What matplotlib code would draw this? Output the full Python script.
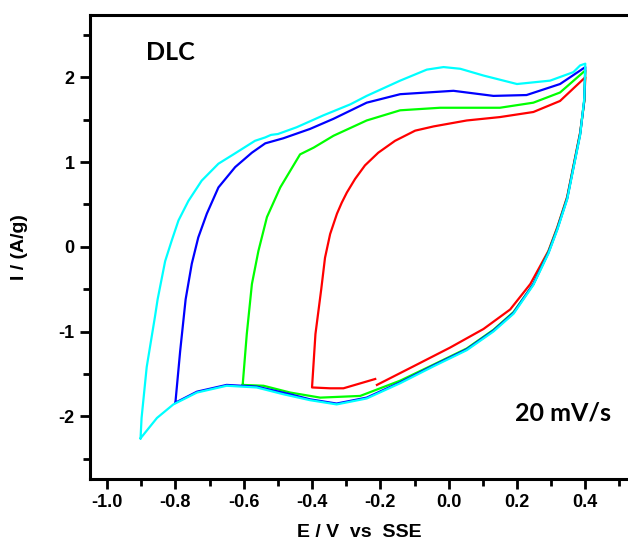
import numpy as np
import matplotlib
matplotlib.use('Agg')
import matplotlib.pyplot as plt
from matplotlib.ticker import MultipleLocator

plt.rcParams['font.family'] = 'Liberation Sans'
plt.rcParams['font.weight'] = 'bold'
plt.rcParams['axes.unicode_minus'] = False

# ---- data (E in V vs SSE, I in A/g) ----
cyan_E = [-0.902, -0.854, -0.806, -0.737, -0.65, -0.562, -0.484, -0.406, -0.328, -0.24,
          -0.142, -0.044, 0.053, 0.131, 0.19, 0.248, 0.292, 0.318, 0.347, 0.365, 0.385,
          0.397, 0.40, 0.385, 0.365, 0.297, 0.20, 0.102, 0.034, -0.015, -0.064, -0.142,
          -0.24, -0.288, -0.367, -0.445, -0.50, -0.52, -0.537, -0.567, -0.63, -0.674,
          -0.723, -0.762, -0.791, -0.811, -0.830, -0.852, -0.86, -0.884, -0.899, -0.902]
cyan_I = [-2.26, -2.02, -1.86, -1.72, -1.64, -1.66, -1.74, -1.81, -1.86, -1.79,
          -1.61, -1.41, -1.22, -1.00, -0.79, -0.45, -0.08, 0.20, 0.56, 0.92, 1.32,
          1.75, 2.16, 2.14, 2.06, 1.96, 1.92, 2.02, 2.10, 2.12, 2.09, 1.96,
          1.78, 1.68, 1.55, 1.41, 1.33, 1.32, 1.29, 1.25, 1.09, 0.98,
          0.78, 0.54, 0.31, 0.07, -0.17, -0.62, -0.83, -1.42, -2.02, -2.26]

blue_E = [-0.80, -0.737, -0.65, -0.562, -0.464, -0.406, -0.328, -0.24, -0.142, -0.044,
          0.053, 0.131, 0.19, 0.248, 0.292, 0.318, 0.347, 0.365, 0.385, 0.397, 0.40,
          0.326, 0.228, 0.131, 0.014, -0.142, -0.24, -0.337, -0.406, -0.484, -0.537,
          -0.576, -0.625, -0.674, -0.708, -0.733, -0.752, -0.770, -0.786, -0.80]
blue_I = [-1.84, -1.71, -1.63, -1.65, -1.74, -1.80, -1.85, -1.78, -1.60, -1.40,
          -1.21, -0.99, -0.78, -0.44, -0.07, 0.21, 0.57, 0.93, 1.33, 1.73, 2.12,
          1.92, 1.79, 1.78, 1.84, 1.80, 1.70, 1.51, 1.39, 1.28, 1.22,
          1.11, 0.94, 0.70, 0.39, 0.11, -0.20, -0.62, -1.23, -1.84]

green_E = [-0.603, -0.542, -0.464, -0.376, -0.259, -0.142, -0.044, 0.053, 0.131, 0.19,
           0.248, 0.292, 0.318, 0.347, 0.365, 0.385, 0.397, 0.40, 0.326, 0.248, 0.15,
           -0.025, -0.142, -0.24, -0.337, -0.395, -0.435, -0.493, -0.532, -0.557,
           -0.576, -0.591, -0.603]
green_I = [-1.63, -1.64, -1.72, -1.78, -1.76, -1.58, -1.39, -1.20, -0.98, -0.77,
           -0.44, -0.06, 0.22, 0.58, 0.94, 1.34, 1.72, 2.08, 1.82, 1.70, 1.64,
           1.64, 1.61, 1.49, 1.31, 1.17, 1.09, 0.70, 0.35, -0.05,
           -0.44, -1.03, -1.63]

red_E = [-0.21, -0.093, 0.004, 0.102, 0.18, 0.239, 0.292, 0.318, 0.347, 0.365, 0.385,
         0.397, 0.40, 0.326, 0.248, 0.15, 0.053, -0.044, -0.098, -0.157, -0.206, -0.245,
         -0.274, -0.298, -0.313, -0.327, -0.347, -0.362, -0.373, -0.39, -0.40, -0.347,
         -0.308, -0.215]
red_I = [-1.63, -1.39, -1.19, -0.97, -0.74, -0.44, -0.05, 0.23, 0.59, 0.95, 1.35,
         1.72, 2.00, 1.72, 1.59, 1.53, 1.49, 1.42, 1.37, 1.25, 1.11, 0.96,
         0.80, 0.64, 0.52, 0.39, 0.15, -0.13, -0.50, -1.03, -1.66, -1.67,
         -1.67, -1.56]

fig = plt.figure(figsize=(6.28, 5.44), dpi=100)
ax = fig.add_axes([0.1433, 0.1195, 0.8567, 0.8538])

ax.plot(red_E, red_I, c='#ff0000', lw=1.6)
ax.plot(green_E, green_I, c='#00ff00', lw=1.6)
ax.plot(blue_E, blue_I, c='#0000ff', lw=1.6)
ax.plot(cyan_E, cyan_I, c='#00ffff', lw=1.6)

ax.set_xlim(-1.05, 0.525)
ax.set_ylim(-2.74, 2.74)
ax.xaxis.set_minor_locator(MultipleLocator(0.1))
ax.yaxis.set_minor_locator(MultipleLocator(0.5))
ax.set_xticks([-1.0, -0.8, -0.6, -0.4, -0.2, 0.0, 0.2, 0.4])
ax.set_yticks([-2, -1, 0, 1, 2])

ax.spines['right'].set_visible(False)
for s in ['left', 'bottom', 'top']:
    ax.spines[s].set_linewidth(2.2)
ax.tick_params(which='major', direction='out', length=7, width=2, labelsize=13, pad=4)
ax.tick_params(which='minor', direction='out', length=5, width=2)
ax.tick_params(top=False, right=False)

ax.set_xlabel('E / V  vs  SSE', fontsize=14, fontweight='bold', labelpad=9)
ax.set_ylabel('I / (A/g)', fontsize=14, fontweight='bold', labelpad=22)

ax.text(-0.886, 2.20, 'DLC', fontsize=18, fontweight='bold', family='Lato')
ax.text(0.195, -2.05, '20 mV/s', fontsize=18, fontweight='bold', family='Lato')

fig.savefig('out.png', dpi=100)
